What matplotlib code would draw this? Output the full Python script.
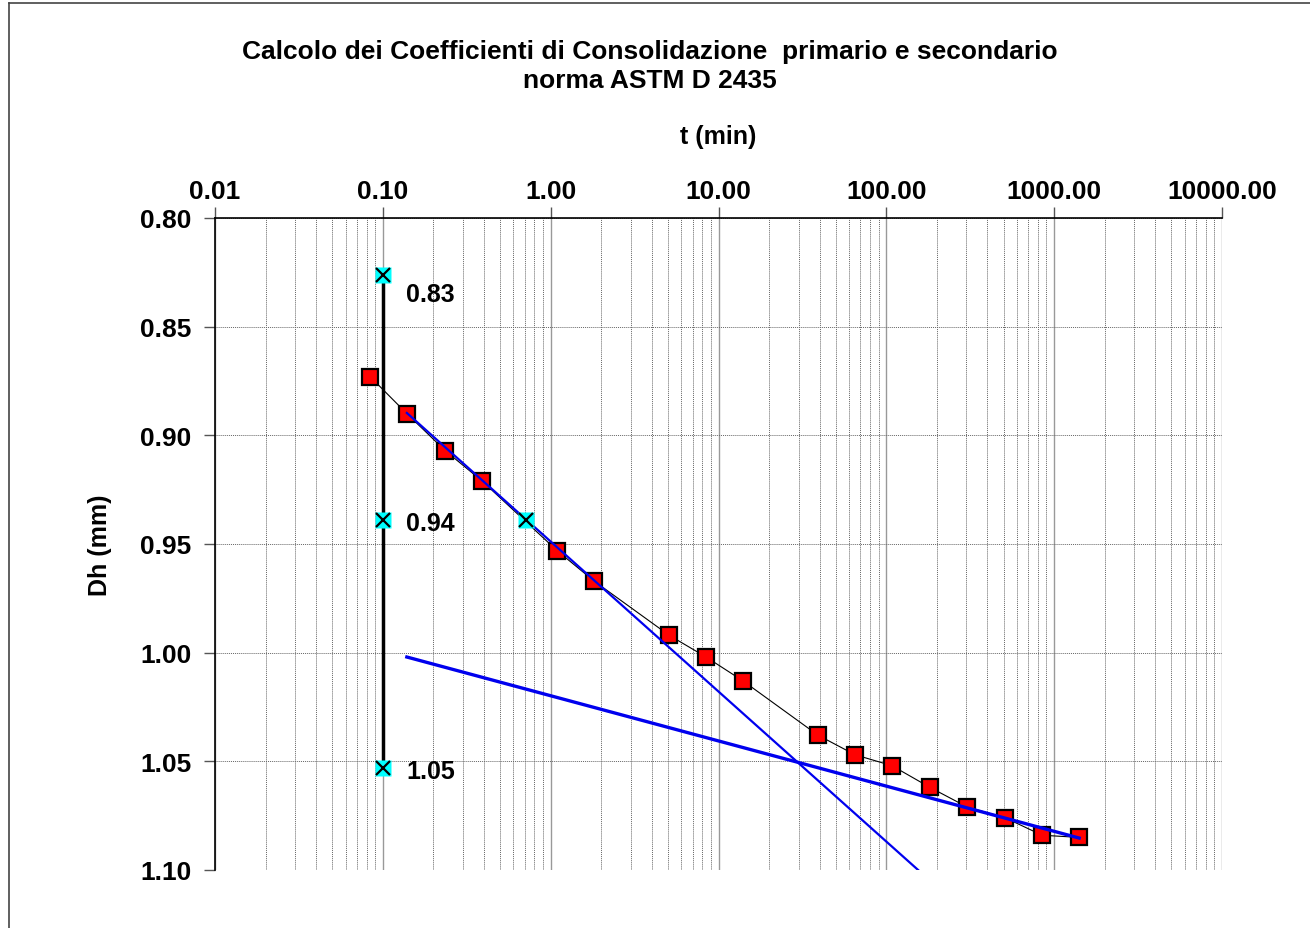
import matplotlib
matplotlib.use("Agg")
import matplotlib.pyplot as plt
from matplotlib.ticker import LogLocator, FixedLocator, FuncFormatter, NullFormatter
from matplotlib.lines import Line2D

plt.rcParams['font.family'] = ['Liberation Sans', 'DejaVu Sans']
plt.rcParams['font.weight'] = 'bold'

# Measured data (time in min, settlement Dh in mm)
t_data = [0.084, 0.139, 0.235, 0.39, 1.09, 1.81, 5.08, 8.43, 14.0, 39.2, 65.2, 108, 182, 303, 511, 848, 1409]
dh_data = [0.873, 0.890, 0.907, 0.921, 0.953, 0.967, 0.992, 1.002, 1.013, 1.038, 1.047, 1.052, 1.062, 1.071, 1.076, 1.084, 1.085]

# Construction points (cyan)
t_construct = [0.1, 0.1, 0.1, 0.714]
dh_construct = [0.826, 0.939, 1.053, 0.939]
construct_labels = ["0.83", "0.94", "1.05"]

# Vertical construction line at t = 0.1
t_vline = [0.1, 0.1]
dh_vline = [0.826, 1.053]

# Primary consolidation tangent
t_primary = [0.139, 154.7]
dh_primary = [0.8897, 1.10]

# Secondary consolidation line
t_secondary = [0.139, 1409]
dh_secondary = [1.002, 1.0853]

y_ticks = [0.80, 0.85, 0.90, 0.95, 1.00, 1.05, 1.10]
x_ticks = [0.01, 0.1, 1, 10, 100, 1000, 10000]

# label text offsets (points) relative to the construction markers
label_dy_pt = [-14, -2, -2]

fig = plt.figure(figsize=(13.10, 9.29), dpi=100)
ax = fig.add_axes([215/1310, 1-871/929, (1222-215)/1310, (871-219)/929])

ax.set_xscale('log')
ax.set_xlim(0.01, 10000)
ax.set_ylim(1.10, 0.80)

ax.xaxis.set_major_locator(FixedLocator(x_ticks))
ax.xaxis.set_minor_locator(LogLocator(base=10, subs=range(2, 10), numticks=100))
ax.xaxis.set_major_formatter(FuncFormatter(lambda v, p: f"{v:.2f}"))
ax.xaxis.set_minor_formatter(NullFormatter())
ax.yaxis.set_major_locator(FixedLocator(y_ticks))
ax.yaxis.set_major_formatter(FuncFormatter(lambda v, p: f"{v:.2f}"))

ax.xaxis.tick_top()
ax.xaxis.set_label_position('top')
ax.tick_params(axis='x', which='major', direction='out', length=8, width=1, color='#555555',
               labelsize=19, pad=3)
ax.tick_params(axis='x', which='minor', length=0)
ax.tick_params(axis='y', which='major', direction='out', length=8, width=1, color='#555555',
               labelsize=19, pad=9)
for lab in ax.get_xticklabels() + ax.get_yticklabels():
    lab.set_fontweight('bold')

ax.grid(True, which='major', axis='x', color='#999999', linestyle='-', linewidth=1)
ax.grid(True, which='minor', axis='x', color='#666666', linestyle=(0, (1, 1)), linewidth=0.7)
ax.grid(True, which='major', axis='y', color='#666666', linestyle=(0, (1, 1)), linewidth=0.7)

for s in ['right', 'bottom']:
    ax.spines[s].set_visible(False)
ax.spines['top'].set_color('black')
ax.spines['left'].set_color('black')
ax.spines['top'].set_linewidth(1.2)
ax.spines['left'].set_linewidth(1.2)

ax.set_xlabel("t (min)", fontsize=18, fontweight='bold', labelpad=26)
ax.set_ylabel("Dh (mm)", fontsize=18, fontweight='bold', labelpad=20)

# vertical construction line
ax.plot(t_vline, dh_vline, color='black', linewidth=2.5, zorder=3)

# data
ax.plot(t_data, dh_data, color='black', linewidth=0.8, marker='s', markersize=11,
        markerfacecolor='#ff0000', markeredgecolor='black', markeredgewidth=1.6, zorder=4)

# tangent lines
ax.plot(t_primary, dh_primary, color='#0000ee', linewidth=1.6, zorder=5)
ax.plot(t_secondary, dh_secondary, color='#0000ee', linewidth=2.4, zorder=5)

# construction markers
ax.plot(t_construct, dh_construct, linestyle='none', marker='s', markersize=11,
        markerfacecolor='#00ffff', markeredgecolor='none', zorder=6)
ax.plot(t_construct, dh_construct, linestyle='none', marker='x', markersize=10,
        markeredgecolor='black', markeredgewidth=1.6, zorder=7)

for t, d, lab, dy in zip(t_construct[:3], dh_construct[:3], construct_labels, label_dy_pt):
    ax.annotate(lab, xy=(t, d), xytext=(17, dy), textcoords='offset points',
                fontsize=18, fontweight='bold', ha='left', va='center')

fig.text(650/1310, 1-52/929, "Calcolo dei Coefficienti di Consolidazione  primario e secondario",
         ha='center', va='center', fontsize=19, fontweight='bold')
fig.text(650/1310, 1-81/929, "norma ASTM D 2435",
         ha='center', va='center', fontsize=19, fontweight='bold')

# figure frame
fig.add_artist(Line2D([9/1310, 9/1310], [0, 1-4/929], transform=fig.transFigure, color='#444444', linewidth=1.2))
fig.add_artist(Line2D([9/1310, 1], [1-4/929, 1-4/929], transform=fig.transFigure, color='#444444', linewidth=1.2))

fig.savefig("out.png", dpi=100)
